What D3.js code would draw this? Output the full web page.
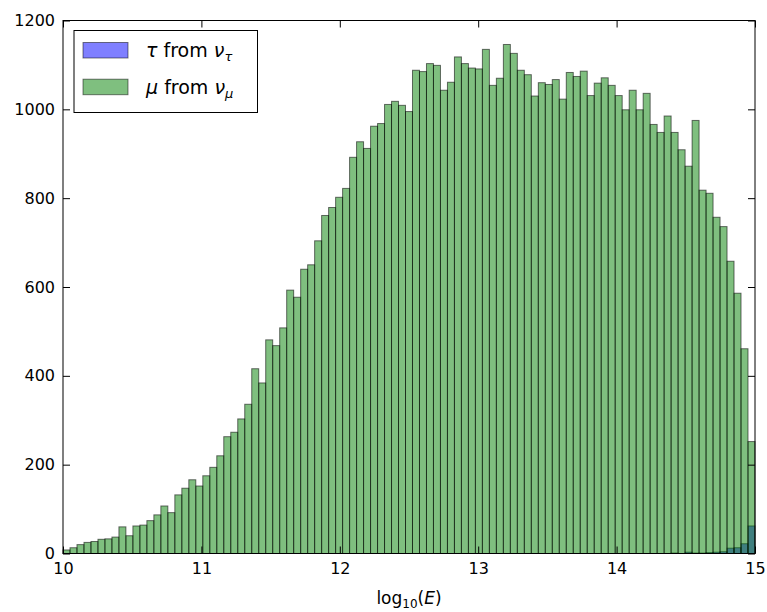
<!DOCTYPE html>
<html><head><meta charset="utf-8">
<script src="https://cdn.jsdelivr.net/npm/d3@7"></script>
<style>
body{margin:0;background:#fff}
svg{display:block}
text{font-family:"DejaVu Sans",sans-serif}
</style>
</head><body>
<svg id="chart" width="767" height="612"></svg>
<script>
// ---- data ----
const xDomain = [10, 15];
const binCount = 99;
const muCounts = [8,13,20,25,27,32,33,37,60,40,
  62,64,74,87,107,92,132,147,166,152,
  175,194,220,263,273,303,336,416,384,481,
  468,508,593,577,640,650,704,761,779,802,
  822,892,927,912,962,968,1011,1018,1009,995,
  1088,1085,1103,1099,1043,1061,1118,1103,1093,1091,
  1135,1054,1070,1146,1126,1088,1078,1030,1060,1056,
  1067,1023,1083,1074,1086,1031,1059,1071,1054,1031,
  999,1043,999,1036,966,948,985,948,909,872,
  975,818,811,757,736,658,586,461,252];
const tauCounts = [0,0,0,0,0,0,0,0,0,0,
  0,0,0,0,0,0,0,0,0,0,
  0,0,0,0,0,0,0,0,0,0,
  0,0,0,0,0,0,0,0,0,0,
  0,0,0,0,0,0,0,0,0,0,
  0,0,0,0,0,0,0,0,0,0,
  0,0,0,0,0,0,0,0,0,0,
  0,0,0,0,0,0,0,0,0,0,
  0,0,0,0,0,0,0,1,0,3,
  1,1,2,3,4,12,13,22,62];
const xTicks = [10, 11, 12, 13, 14, 15];
const yTicks = [0, 200, 400, 600, 800, 1000, 1200];

// ---- layout ----
const L = 63, R = 755, T = 20.5, B = 553.5;
const svg = d3.select("#chart");
const x = d3.scaleLinear().domain(xDomain).range([L, R]);
const y = d3.scaleLinear().domain([0, 1200]).range([B, T]);
const bw = (xDomain[1] - xDomain[0]) / binCount;
const edges = d3.range(binCount).map(i => [xDomain[0] + i * bw, xDomain[0] + (i + 1) * bw]);

function drawHist(counts, color, cls) {
  svg.append("g").attr("class", cls)
    .selectAll("rect").data(counts).join("rect")
    .attr("x", (d, i) => x(edges[i][0]))
    .attr("width", (d, i) => x(edges[i][1]) - x(edges[i][0]))
    .attr("y", d => y(d))
    .attr("height", d => y(0) - y(d))
    .attr("fill", color).attr("fill-opacity", 0.5)
    .attr("stroke", "#000").attr("stroke-opacity", 0.55).attr("stroke-width", 1);
}
drawHist(tauCounts, "#0000ff", "tau");
drawHist(muCounts, "#008000", "mu");

// ---- axes ----
const tick = 7;
const fs = 16;
const xb = svg.append("g").attr("transform", `translate(0,${B})`)
  .call(d3.axisBottom(x).tickValues(xTicks).tickSizeInner(-tick).tickSizeOuter(0).tickPadding(9).tickFormat(d3.format("d")));
const xt = svg.append("g").attr("transform", `translate(0,${T})`)
  .call(d3.axisTop(x).tickValues(xTicks).tickSizeInner(-tick).tickSizeOuter(0).tickFormat(""));
const yl = svg.append("g").attr("transform", `translate(${L},0)`)
  .call(d3.axisLeft(y).tickValues(yTicks).tickSizeInner(-tick).tickSizeOuter(0).tickPadding(8).tickFormat(d3.format("d")));
const yr = svg.append("g").attr("transform", `translate(${R},0)`)
  .call(d3.axisRight(y).tickValues(yTicks).tickSizeInner(-tick).tickSizeOuter(0).tickFormat(""));
[xb, xt, yl, yr].forEach(g => {
  g.select(".domain").remove();
  g.selectAll("line").attr("stroke", "#000").attr("stroke-width", 1);
  g.selectAll("text").attr("font-size", fs).attr("fill", "#000").attr("font-family", "DejaVu Sans");
});
svg.append("rect").attr("x", L).attr("y", T).attr("width", R - L).attr("height", B - T)
  .attr("fill", "none").attr("stroke", "#000").attr("stroke-width", 1);

// ---- x label: log_10(E) ----
const xl = svg.append("text").attr("x", (L + R) / 2).attr("y", 604)
  .attr("text-anchor", "middle").attr("font-size", 17).attr("fill", "#000");
xl.append("tspan").text("log");
xl.append("tspan").attr("font-size", 12).attr("dy", 4).text("10");
xl.append("tspan").attr("dy", -4).text("(");
xl.append("tspan").attr("font-style", "italic").text("E");
xl.append("tspan").text(")");

// ---- legend ----
const legendItems = [
  {sym: "τ", sub: "τ", color: "#0000ff"},
  {sym: "μ", sub: "μ", color: "#008000"}
];
const lg = svg.append("g");
lg.append("rect").attr("x", 74).attr("y", 30.5).attr("width", 183.5).attr("height", 82)
  .attr("fill", "#fff").attr("stroke", "#000").attr("stroke-width", 1);
legendItems.forEach((it, i) => {
  const yy = 42.5 + i * 36.7;
  lg.append("rect").attr("x", 83).attr("y", yy).attr("width", 45).attr("height", 15.5)
    .attr("fill", it.color).attr("fill-opacity", 0.5)
    .attr("stroke", "#000").attr("stroke-opacity", 0.5).attr("stroke-width", 1);
  const t = lg.append("text").attr("x", 146).attr("y", yy + 14.5).attr("font-size", 19).attr("fill", "#000");
  t.append("tspan").attr("font-style", "italic").text(it.sym);
  t.append("tspan").text(" from ");
  t.append("tspan").attr("font-style", "italic").text("ν");
  t.append("tspan").attr("font-style", "italic").attr("font-size", 13).attr("dy", 4).text(it.sub);
});
</script>
</body></html>
